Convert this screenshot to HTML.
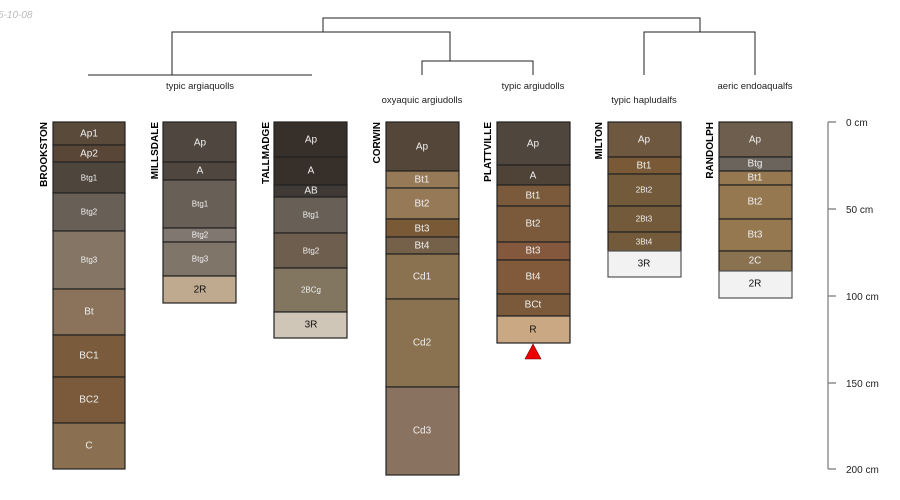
<!DOCTYPE html>
<html><head><meta charset="utf-8"><style>
body{margin:0;background:#fff;}
svg{display:block;font-family:"Liberation Sans",sans-serif;}
.h rect{stroke:#222;stroke-width:1.2;}
.h text{fill:#eee;font-size:10px;text-anchor:middle;dominant-baseline:central;}
.h text.s{font-size:8px;}
.h text.d{fill:#111;}
.n{font-size:10px;font-weight:bold;fill:#000;text-anchor:end;}
.l{font-size:9.5px;fill:#222;text-anchor:middle;}
.ax{font-size:10px;fill:#222;}
</style></head><body>
<svg width="900" height="500" viewBox="0 0 900 500">
<text x="-2" y="18" font-size="10" font-style="italic" fill="#bbb">5-10-08</text>
<g stroke="#222" stroke-width="1" fill="none">
<path d="M323 32V18H700V32"/>
<path d="M172 75V32H450V61"/>
<path d="M88 75H312"/>
<path d="M422 75V61H533V75"/>
<path d="M644 75V32H755V75"/>
</g>
<text class="l" x="200" y="89">typic argiaquolls</text>
<text class="l" x="422" y="103">oxyaquic argiudolls</text>
<text class="l" x="533" y="89">typic argiudolls</text>
<text class="l" x="644" y="103">typic hapludalfs</text>
<text class="l" x="755" y="89">aeric endoaqualfs</text>

<text class="n" transform="translate(47,122) rotate(-90)">BROOKSTON</text>
<text class="n" transform="translate(158,122) rotate(-90)">MILLSDALE</text>
<text class="n" transform="translate(269,122) rotate(-90)">TALLMADGE</text>
<text class="n" transform="translate(380,122) rotate(-90)">CORWIN</text>
<text class="n" transform="translate(491,122) rotate(-90)">PLATTVILLE</text>
<text class="n" transform="translate(602,122) rotate(-90)">MILTON</text>
<text class="n" transform="translate(713,122) rotate(-90)">RANDOLPH</text>

<g class="h">
<rect x="53" y="122" width="72" height="23" fill="#5a4a3a"/><text x="89" y="134">Ap1</text>
<rect x="53" y="145" width="72" height="17" fill="#5a4636"/><text x="89" y="154">Ap2</text>
<rect x="53" y="162" width="72" height="31" fill="#4e453c"/><text class="s" x="89" y="178">Btg1</text>
<rect x="53" y="193" width="72" height="38" fill="#686057"/><text class="s" x="89" y="212">Btg2</text>
<rect x="53" y="231" width="72" height="58" fill="#857565"/><text class="s" x="89" y="260">Btg3</text>
<rect x="53" y="289" width="72" height="46" fill="#8a735a"/><text x="89" y="312">Bt</text>
<rect x="53" y="335" width="72" height="42" fill="#7a5c3c"/><text x="89" y="356">BC1</text>
<rect x="53" y="377" width="72" height="46" fill="#7a5a3a"/><text x="89" y="400">BC2</text>
<rect x="53" y="423" width="72" height="46" fill="#8a7050"/><text x="89" y="446">C</text>

<rect x="163" y="122" width="73" height="40" fill="#4f473f"/><text x="200" y="143">Ap</text>
<rect x="163" y="162" width="73" height="18" fill="#4f473f"/><text x="200" y="171">A</text>
<rect x="163" y="180" width="73" height="48" fill="#686057"/><text class="s" x="200" y="204">Btg1</text>
<rect x="163" y="228" width="73" height="14" fill="#807870"/><text class="s" x="200" y="235">Btg2</text>
<rect x="163" y="242" width="73" height="34" fill="#7f7569"/><text class="s" x="200" y="259">Btg3</text>
<rect x="163" y="276" width="73" height="27" fill="#bfa98f"/><text class="d" x="200" y="290">2R</text>

<rect x="274" y="122" width="73" height="35" fill="#372f2a"/><text x="311" y="140">Ap</text>
<rect x="274" y="157" width="73" height="28" fill="#372f2a"/><text x="311" y="171">A</text>
<rect x="274" y="185" width="73" height="12" fill="#3f3a35"/><text x="311" y="191">AB</text>
<rect x="274" y="197" width="73" height="36" fill="#686057"/><text class="s" x="311" y="215">Btg1</text>
<rect x="274" y="233" width="73" height="35" fill="#6e5e4e"/><text class="s" x="311" y="251">Btg2</text>
<rect x="274" y="268" width="73" height="44" fill="#827660"/><text class="s" x="311" y="290">2BCg</text>
<rect x="274" y="312" width="73" height="26" fill="#d0c6b8"/><text class="d" x="311" y="325">3R</text>

<rect x="386" y="122" width="73" height="49" fill="#54473a"/><text x="422" y="147">Ap</text>
<rect x="386" y="171" width="73" height="17" fill="#967a58"/><text x="422" y="180">Bt1</text>
<rect x="386" y="188" width="73" height="31" fill="#967a58"/><text x="422" y="204">Bt2</text>
<rect x="386" y="219" width="73" height="18" fill="#7a5a36"/><text x="422" y="229">Bt3</text>
<rect x="386" y="237" width="73" height="17" fill="#75604a"/><text x="422" y="246">Bt4</text>
<rect x="386" y="254" width="73" height="45" fill="#8a7250"/><text x="422" y="277">Cd1</text>
<rect x="386" y="299" width="73" height="88" fill="#8a7250"/><text x="422" y="343">Cd2</text>
<rect x="386" y="387" width="73" height="88" fill="#8a7260"/><text x="422" y="431">Cd3</text>

<rect x="497" y="122" width="73" height="43" fill="#4f463e"/><text x="533" y="144">Ap</text>
<rect x="497" y="165" width="73" height="20" fill="#4f4236"/><text x="533" y="176">A</text>
<rect x="497" y="185" width="73" height="21" fill="#7a5a3a"/><text x="533" y="196">Bt1</text>
<rect x="497" y="206" width="73" height="36" fill="#7a5a3a"/><text x="533" y="224">Bt2</text>
<rect x="497" y="242" width="73" height="18" fill="#84583c"/><text x="533" y="251">Bt3</text>
<rect x="497" y="260" width="73" height="34" fill="#805a3a"/><text x="533" y="277">Bt4</text>
<rect x="497" y="294" width="73" height="22" fill="#7a5a3a"/><text x="533" y="305">BCt</text>
<rect x="497" y="316" width="73" height="27" fill="#c9a883"/><text class="d" x="533" y="330">R</text>

<rect x="608" y="122" width="73" height="35" fill="#6e5840"/><text x="644" y="140">Ap</text>
<rect x="608" y="157" width="73" height="17" fill="#7a5a36"/><text x="644" y="166">Bt1</text>
<rect x="608" y="174" width="73" height="32" fill="#735a3a"/><text class="s" x="644" y="190">2Bt2</text>
<rect x="608" y="206" width="73" height="26" fill="#735a3a"/><text class="s" x="644" y="219">2Bt3</text>
<rect x="608" y="232" width="73" height="19" fill="#735a3a"/><text class="s" x="644" y="242">3Bt4</text>
<rect x="608" y="251" width="73" height="26" fill="#f2f2f2" style="stroke:#555"/><text class="d" x="644" y="264">3R</text>

<rect x="719" y="122" width="73" height="35" fill="#6e5e4e"/><text x="755" y="140">Ap</text>
<rect x="719" y="157" width="73" height="14" fill="#6b645c"/><text x="755" y="164">Btg</text>
<rect x="719" y="171" width="73" height="14" fill="#967850"/><text x="755" y="178">Bt1</text>
<rect x="719" y="185" width="73" height="34" fill="#967850"/><text x="755" y="202">Bt2</text>
<rect x="719" y="219" width="73" height="32" fill="#967850"/><text x="755" y="235">Bt3</text>
<rect x="719" y="251" width="73" height="20" fill="#8a7250"/><text x="755" y="261">2C</text>
<rect x="719" y="271" width="73" height="27" fill="#f2f2f2" style="stroke:#555"/><text class="d" x="755" y="284">2R</text>
</g>
<polygon points="533,344 525,359 541,359" fill="#e00" stroke="#600" stroke-width="0.6"/>

<g stroke="#777" stroke-width="1.2">
<path d="M828 122V469"/>
<path d="M828 122H836M828 209H836M828 296H836M828 383H836M828 469H836"/>
</g>
<text class="ax" x="846" y="126">0 cm</text>
<text class="ax" x="846" y="213">50 cm</text>
<text class="ax" x="846" y="300">100 cm</text>
<text class="ax" x="846" y="387">150 cm</text>
<text class="ax" x="846" y="473">200 cm</text>
</svg>
</body></html>
